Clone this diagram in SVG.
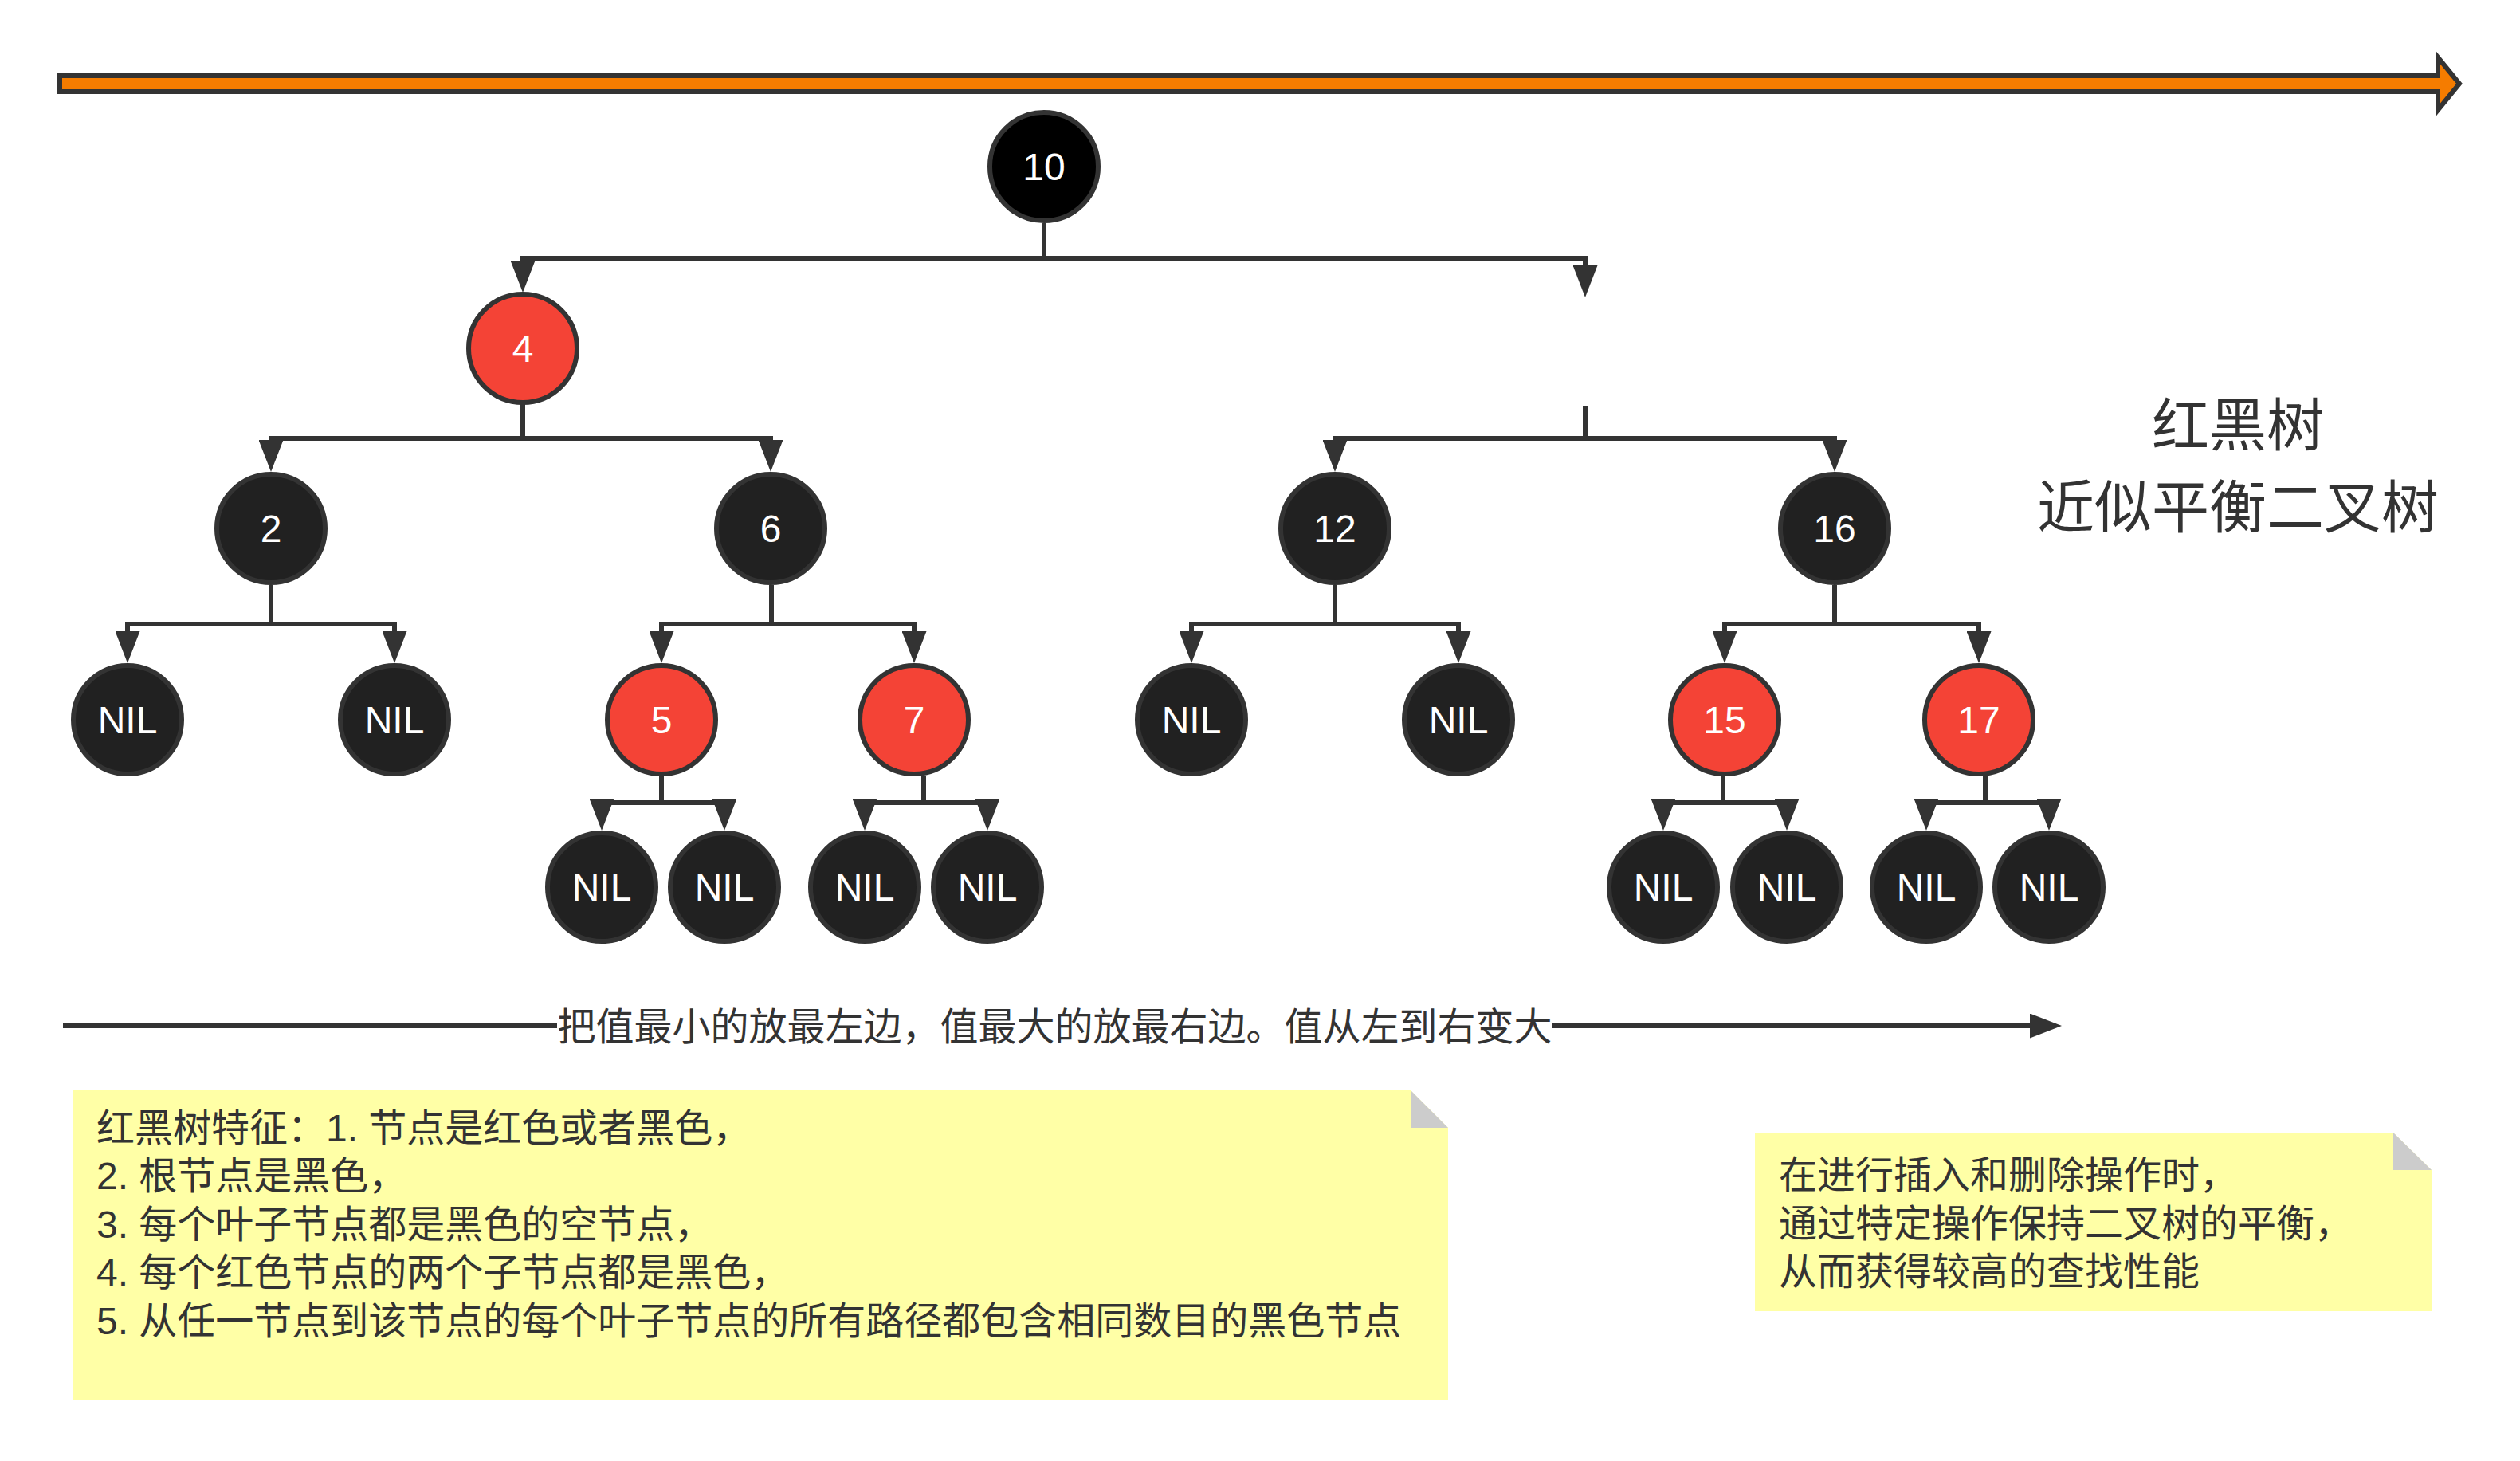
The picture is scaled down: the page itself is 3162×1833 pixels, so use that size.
<svg xmlns="http://www.w3.org/2000/svg" width="3162" height="1833" viewBox="0 0 3162 1833">
<style>
.n{stroke:#333333;stroke-width:6}
.blk{fill:#212121}
.red{fill:#F44336}
.root{fill:#000000}
.nt{font-family:"Liberation Sans","Noto Sans CJK SC",sans-serif;font-size:48px;fill:#FFFFFF;text-anchor:middle}
.e{fill:none;stroke:#333333;stroke-width:6;stroke-linejoin:miter;marker-end:url(#ah)}
.tx{font-family:"Liberation Sans","Noto Sans CJK SC",sans-serif;font-size:48px;fill:#333333}
.note{fill:#FFFFA6}
.fold{fill:#CCCCCC}
</style>
<defs>
<marker id="ah" markerUnits="userSpaceOnUse" viewBox="0 0 40 31" markerWidth="40" markerHeight="31" refX="30" refY="15.5" orient="auto">
<path d="M0,0 L40,15.5 L0,31 Z" fill="#333333"/>
</marker>
</defs>
<rect width="3162" height="1833" fill="#FFFFFF"/>

<g id="top-arrow">
<path d="M75,95 L3059,95 L3059,72 L3086,105 L3059,138 L3059,115 L75,115 Z" fill="#F57C00" stroke="#333333" stroke-width="6" stroke-linejoin="miter"/>
</g>

<g id="connectors">
<path class="e" d="M1310,280 V324 H656 V357"/>
<path class="e" d="M1310,324 H1989 V363"/>
<path class="e" d="M656,507 V550 H340 V582"/>
<path class="e" d="M656,550 H967 V582"/>
<path class="e" d="M1989,510 V550 H1675 V582"/>
<path class="e" d="M1989,550 H2302 V582"/>
<path class="e" d="M340,734 V783 H160 V822"/>
<path class="e" d="M340,783 H495 V822"/>
<path class="e" d="M968,734 V783 H830 V822"/>
<path class="e" d="M968,783 H1147 V822"/>
<path class="e" d="M1675,734 V783 H1495 V822"/>
<path class="e" d="M1675,783 H1830 V822"/>
<path class="e" d="M2302,734 V783 H2164 V822"/>
<path class="e" d="M2302,783 H2483 V822"/>
<path class="e" d="M830,973 V1007 H755 V1032"/>
<path class="e" d="M830,1007 H909 V1032"/>
<path class="e" d="M1159,973 V1007 H1085 V1032"/>
<path class="e" d="M1159,1007 H1239 V1032"/>
<path class="e" d="M2162,973 V1007 H2087 V1032"/>
<path class="e" d="M2162,1007 H2242 V1032"/>
<path class="e" d="M2491,973 V1007 H2417 V1032"/>
<path class="e" d="M2491,1007 H2571 V1032"/>
<path class="e" d="M79,1287 H2577"/>
</g>

<g id="order-label">
<rect x="699" y="1258" width="1249" height="60" fill="#FFFFFF"/>
<text class="tx" x="1323.5" y="1305" text-anchor="middle">把值最小的放最左边，值最大的放最右边。值从左到右变大</text>
</g>

<g id="n10"><circle class="n root" cx="1310" cy="209" r="68"/><text class="nt" x="1310" y="226">10</text></g>
<g id="n4"><circle class="n red" cx="656" cy="437" r="68"/><text class="nt" x="656" y="454">4</text></g>
<g id="n2"><circle class="n blk" cx="340" cy="663" r="68"/><text class="nt" x="340" y="680">2</text></g>
<g id="n6"><circle class="n blk" cx="967" cy="663" r="68"/><text class="nt" x="967" y="680">6</text></g>
<g id="n12"><circle class="n blk" cx="1675" cy="663" r="68"/><text class="nt" x="1675" y="680">12</text></g>
<g id="n16"><circle class="n blk" cx="2302" cy="663" r="68"/><text class="nt" x="2302" y="680">16</text></g>

<g id="nil-2a"><circle class="n blk" cx="160" cy="903" r="68"/><text class="nt" x="160" y="920">NIL</text></g>
<g id="nil-2b"><circle class="n blk" cx="495" cy="903" r="68"/><text class="nt" x="495" y="920">NIL</text></g>
<g id="n5"><circle class="n red" cx="830" cy="903" r="68"/><text class="nt" x="830" y="920">5</text></g>
<g id="n7"><circle class="n red" cx="1147" cy="903" r="68"/><text class="nt" x="1147" y="920">7</text></g>
<g id="nil-12a"><circle class="n blk" cx="1495" cy="903" r="68"/><text class="nt" x="1495" y="920">NIL</text></g>
<g id="nil-12b"><circle class="n blk" cx="1830" cy="903" r="68"/><text class="nt" x="1830" y="920">NIL</text></g>
<g id="n15"><circle class="n red" cx="2164" cy="903" r="68"/><text class="nt" x="2164" y="920">15</text></g>
<g id="n17"><circle class="n red" cx="2483" cy="903" r="68"/><text class="nt" x="2483" y="920">17</text></g>

<g id="nil-5a"><circle class="n blk" cx="755" cy="1113" r="68"/><text class="nt" x="755" y="1130">NIL</text></g>
<g id="nil-5b"><circle class="n blk" cx="909" cy="1113" r="68"/><text class="nt" x="909" y="1130">NIL</text></g>
<g id="nil-7a"><circle class="n blk" cx="1085" cy="1113" r="68"/><text class="nt" x="1085" y="1130">NIL</text></g>
<g id="nil-7b"><circle class="n blk" cx="1239" cy="1113" r="68"/><text class="nt" x="1239" y="1130">NIL</text></g>
<g id="nil-15a"><circle class="n blk" cx="2087" cy="1113" r="68"/><text class="nt" x="2087" y="1130">NIL</text></g>
<g id="nil-15b"><circle class="n blk" cx="2242" cy="1113" r="68"/><text class="nt" x="2242" y="1130">NIL</text></g>
<g id="nil-17a"><circle class="n blk" cx="2417" cy="1113" r="68"/><text class="nt" x="2417" y="1130">NIL</text></g>
<g id="nil-17b"><circle class="n blk" cx="2571" cy="1113" r="68"/><text class="nt" x="2571" y="1130">NIL</text></g>

<g id="title">
<text class="tx" x="2808" y="559" font-size="72" style="font-size:72px" text-anchor="middle">红黑树</text>
<text class="tx" x="2808" y="662" style="font-size:72px" text-anchor="middle">近似平衡二叉树</text>
</g>

<g id="note-features">
<path class="note" d="M91,1368 L1770,1368 L1817,1415 L1817,1757 L91,1757 Z"/>
<path class="fold" d="M1770,1368 L1817,1415 L1770,1415 Z"/>
<text class="tx" x="121" y="1432">红黑树特征：1. 节点是红色或者黑色，</text>
<text class="tx" x="121" y="1492">2. 根节点是黑色，</text>
<text class="tx" x="121" y="1553">3. 每个叶子节点都是黑色的空节点，</text>
<text class="tx" x="121" y="1613">4. 每个红色节点的两个子节点都是黑色，</text>
<text class="tx" x="121" y="1674">5. 从任一节点到该节点的每个叶子节点的所有路径都包含相同数目的黑色节点</text>
</g>

<g id="note-balance">
<path class="note" d="M2202,1421 L3003,1421 L3051,1468 L3051,1645 L2202,1645 Z"/>
<path class="fold" d="M3003,1421 L3051,1468 L3003,1468 Z"/>
<text class="tx" x="2232" y="1491">在进行插入和删除操作时，</text>
<text class="tx" x="2232" y="1552">通过特定操作保持二叉树的平衡，</text>
<text class="tx" x="2232" y="1612">从而获得较高的查找性能</text>
</g>
</svg>
